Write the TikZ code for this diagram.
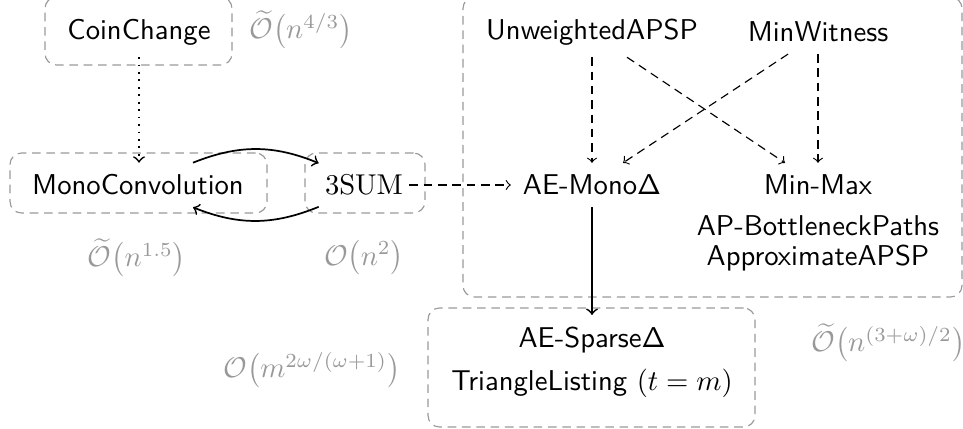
\documentclass[tikz,border=0pt]{standalone}
\usetikzlibrary{calc,fit}
\begin{document}
\begin{tikzpicture}[x=0.349pt,y=-0.349pt,
  lbl/.style={font=\sffamily, inner xsep=4pt, inner ysep=4pt},
  cx/.style={text=black!40, inner sep=1pt},
  grp/.style={draw=black!40, dash pattern=on 3pt off 2pt, rounded corners=4pt, inner sep=0pt},
  dep/.style={->, dash pattern=on 3pt off 2pt},
  red/.style={->, semithick},
  dotarrow/.style={->, semithick, dotted}]
\useasboundingbox (0,0) rectangle (963,429);

% group boxes
\node[grp, fit={(45,-3) (232,65)}] (coinbox) {};
\node[grp, fit={(10,153) (267,213)}] (monobox) {};
\node[grp, fit={(305,153) (425,213)}] (tsumbox) {};
\node[grp, fit={(463,-3) (962,297)}] (bigbox) {};
\node[grp, fit={(428,308) (755,427)}] (sparsebox) {};

% problems
\node[lbl] (coin) at (139,32) {CoinChange};
\node[lbl] (mono) at (138,185) {MonoConvolution};
\node[lbl, inner xsep=2pt] (tsum) at (364,185) {$3\mathrm{SUM}$};
\node[lbl] (uapsp) at (592,32) {UnweightedAPSP};
\node[lbl] (minw) at (818,32) {MinWitness};
\node[lbl] (aemono) at (592,185) {AE-Mono$\mathsf{\Delta}$};
\node[lbl] (minmax) at (818,185) {Min-Max};
\node[lbl, inner ysep=1pt] (apbn) at (818,226) {AP-BottleneckPaths};
\node[lbl, inner ysep=1pt] (aapsp) at (818,258) {ApproximateAPSP};
\node[lbl] (sparse) at (592,340) {AE-Sparse$\mathsf{\Delta}$};
\node[lbl, inner ysep=1pt] (tlist) at (592,383) {TriangleListing $(t=m)$};

% complexities
\node[cx] (coinc) at (301,30) {$\widetilde{\mathcal{O}}\!\left(n^{4/3}\right)$};
\node[cx] (monoc) at (137,258) {$\widetilde{\mathcal{O}}\!\left(n^{1.5}\right)$};
\node[cx] (tsumc) at (364,258) {$\mathcal{O}\!\left(n^{2}\right)$};
\node[cx] (sparsec) at (312,370) {$\mathcal{O}\!\left(m^{2\omega/(\omega+1)}\right)$};
\node[cx, anchor=west] (bigc) at (808,343) {$\widetilde{\mathcal{O}}\!\left(n^{(3+\omega)/2}\right)$};

% connectors
\draw[dotarrow] (coin.south) -- (coin.south |- mono.north);
\draw[red] ($(mono.north)+(55,0)$) to[bend left=22] (tsum.north west);
\draw[red] (tsum.south west) to[bend left=22] ($(mono.south)+(55,0)$);
\draw[dep] (tsum.east) -- (aemono.west);
\draw[dep] (uapsp.south) -- (aemono.north);
\draw[dep] ($(uapsp.south)+(35,0)$) -- ($(minmax.north)+(-33,0)$);
\draw[dep] ($(minw.south)+(-30,0)$) -- ($(aemono.north)+(31,0)$);
\draw[dep] (minw.south) -- (minmax.north);
\draw[red] (aemono.south) -- (sparse.north);
\end{tikzpicture}
\end{document}
